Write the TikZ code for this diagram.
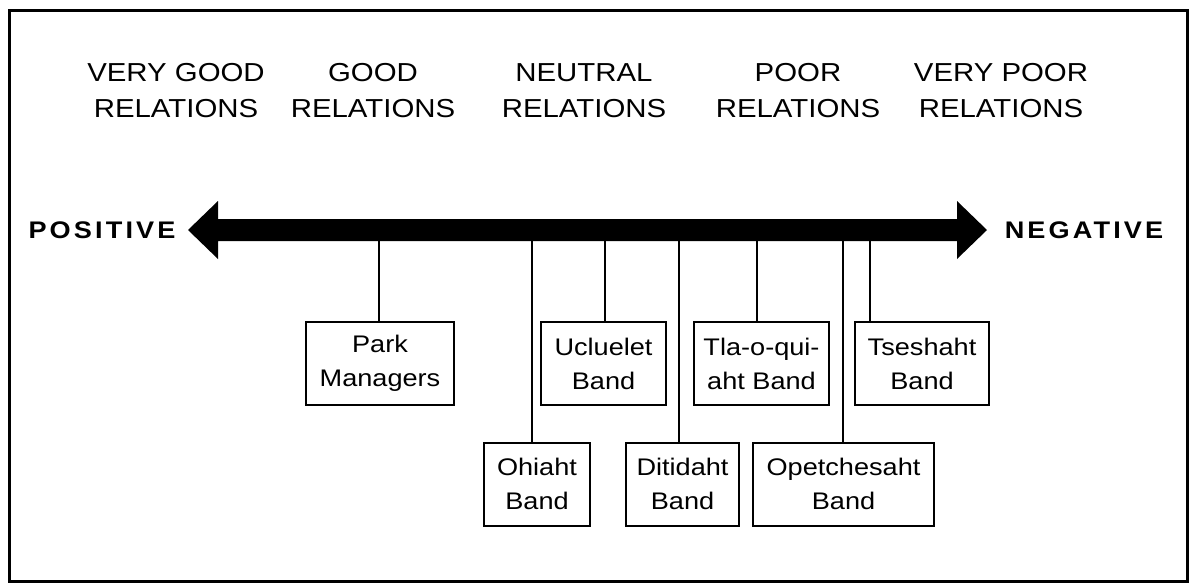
\documentclass[tikz,border=0pt]{standalone}
\usepackage{fontspec}
\setmainfont[FakeStretch=1.13]{Liberation Sans}
\newfontfamily\polefont[FakeStretch=1.13,LetterSpace=13]{Liberation Sans Bold}
\tikzset{
  band/.style={draw, line width=1pt, inner sep=0pt, minimum height=41.5pt,
    align=center, font=\fontsize{12}{17}\selectfont},
  heading/.style={align=center, font=\fontsize{13}{18}\selectfont},
  pole/.style={font=\polefont\fontsize{12}{14}\selectfont},
  link/.style={line width=1pt}
}

\begin{document}
\begin{tikzpicture}[x=0.5pt, y=-0.5pt]
  \useasboundingbox (0,0) rectangle (1191,585);
  % Draw the frame
  \draw[line width=1.5pt] (9,10) rectangle (1187,581);
  % Draw the headers
  \node[heading] (h1) at (176,91) {VERY GOOD\\RELATIONS};
  \node[heading] (h2) at (373,91) {GOOD\\RELATIONS};
  \node[heading] (h3) at (584,91) {NEUTRAL\\RELATIONS};
  \node[heading] (h4) at (798,91) {POOR\\RELATIONS};
  \node[heading] (h5) at (1001,91) {VERY POOR\\RELATIONS};
  % Draw the axis
  \fill (188,230) -- (218,201) -- (218,219) -- (957,219) -- (957,201)
    -- (987,230) -- (957,259) -- (957,241) -- (218,241) -- (218,259) -- cycle;
  \node[pole] (pos) at (102,230) {POSITIVE};
  \node[pole] (neg) at (1084,230) {NEGATIVE};
  % Draw the groups, upper row
  \node[band, minimum width=74pt] (park) at (380,363.5) {Park\\Managers};
  \node[band, minimum width=62.5pt] (ucl) at (603.5,363.5) {Ucluelet\\Band};
  \node[band, minimum width=67.5pt] (tla) at (761.5,363.5) {Tla-o-qui-\\aht Band};
  \node[band, minimum width=67pt] (tse) at (922,363.5) {Tseshaht\\Band};
  % Draw the groups, lower row
  \node[band, minimum width=53pt] (ohi) at (537,484) {Ohiaht\\Band};
  \node[band, minimum width=56.5pt] (dit) at (682.5,484) {Ditidaht\\Band};
  \node[band, minimum width=90.5pt] (ope) at (843.5,484) {Opetchesaht\\Band};
  % Draw the links to the axis
  \coordinate (aPark) at (379,241);
  \coordinate (aOhi) at (532,241);
  \coordinate (aUcl) at (605,241);
  \coordinate (aDit) at (679,241);
  \coordinate (aTla) at (757,241);
  \coordinate (aOpe) at (843,241);
  \coordinate (aTse) at (870,241);
  \draw[link] (aPark) -- (aPark |- park.north);
  \draw[link] (aOhi) -- (aOhi |- ohi.north);
  \draw[link] (aUcl) -- (aUcl |- ucl.north);
  \draw[link] (aDit) -- (aDit |- dit.north);
  \draw[link] (aTla) -- (aTla |- tla.north);
  \draw[link] (aOpe) -- (aOpe |- ope.north);
  \draw[link] (aTse) -- (aTse |- tse.north);
\end{tikzpicture}
\end{document}
